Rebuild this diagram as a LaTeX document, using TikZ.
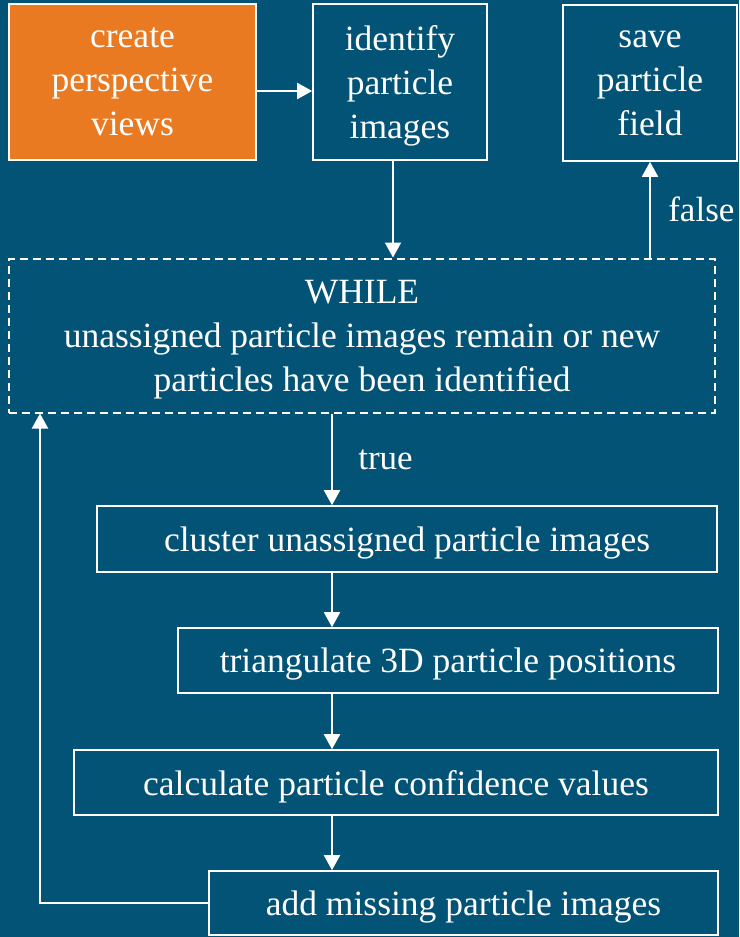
\documentclass[tikz,border=0pt]{standalone}
\usepackage{fontspec}
\setmainfont{Liberation Serif}
\usetikzlibrary{arrows.meta}
\usetikzlibrary{positioning}
\usetikzlibrary{calc}
\definecolor{fond}{RGB}{2,83,117}
\definecolor{orangeb}{RGB}{233,122,34}
\begin{document}
\begin{tikzpicture}[x=1pt,y=-1pt]
\tikzstyle{boite}=[
        rectangle,
        draw=white,
        line width=1.6pt,
        text=white,
        align=center,
        inner sep=0pt,
        text depth=0pt,
        font=\fontsize{35.5}{44}\selectfont
]
\tikzstyle{debut}=[boite,fill=orangeb]
\tikzstyle{boucle}=[boite,dash pattern=on 8pt off 5pt,line width=2pt]
\tikzstyle{etiq}=[text=white,font=\fontsize{35}{40}\selectfont]
%style des fleches
\tikzstyle{suite}=[-{Triangle[width=16pt,length=15pt]},draw=white,line width=2pt]
%fond
\fill[fond] (0,0) rectangle (739,937);
\useasboundingbox (0,0) rectangle (739,937);
%placement des noeuds
\node[debut,minimum width=247pt,minimum height=156pt] (vues) at (132.5,82) {create\\perspective\\views};
\node[boite,minimum width=174pt,minimum height=156pt] (ident) at (400,82) {identify\\particle\\images};
\node[boite,minimum width=174pt,minimum height=156pt] (sauve) at (650,83) {save\\particle\\field};
\node[boucle,minimum width=706pt,minimum height=154pt] (tantque) at (362,335.5) {WHILE\\unassigned particle images remain or new\\particles have been identified};
\node[boite,minimum width=620pt,minimum height=66pt] (grouper) at (407,539) {cluster unassigned particle images};
\node[boite,minimum width=540pt,minimum height=65pt] (trianguler) at (448,660.5) {triangulate 3D particle positions};
\node[boite,minimum width=644pt,minimum height=65pt] (calculer) at (396,782.5) {calculate particle confidence values};
\node[boite,minimum width=509pt,minimum height=64pt] (ajouter) at (463.5,903) {add missing particle images};
\coordinate (axe) at (332,0);
%placement des fleches
\draw[suite] ([yshift=-9pt]vues.east) -- ([yshift=-9pt]ident.west);
\draw[suite] ([xshift=-7pt]ident.south) -- ([xshift=-7pt]ident.south |- tantque.north);
\draw[suite] (tantque.north -| sauve.south) -- (sauve.south) node[etiq,midway,right=14pt]{false};
\draw[suite] (tantque.south -| axe) -- (grouper.north -| axe) node[etiq,midway,right=22pt]{true};
\draw[suite] (grouper.south -| axe) -- (trianguler.north -| axe);
\draw[suite] (trianguler.south -| axe) -- (calculer.north -| axe);
\draw[suite] (calculer.south -| axe) -- (ajouter.north -| axe);
\draw[suite] (ajouter.west) -| ([xshift=32pt]tantque.south west);
\end{tikzpicture}
\end{document}
